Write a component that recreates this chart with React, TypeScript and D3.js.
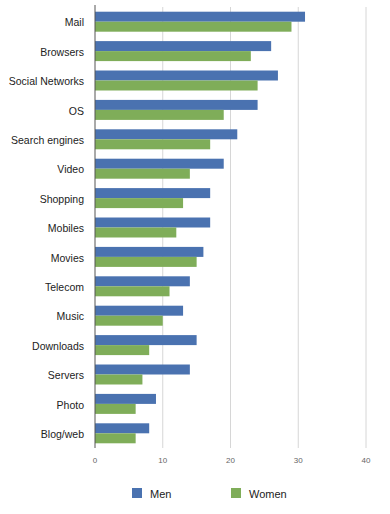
import { useEffect, useRef } from 'react';
import * as d3 from 'd3';

const CATEGORIES = ["Mail", "Browsers", "Social Networks", "OS", "Search engines", "Video", "Shopping", "Mobiles", "Movies", "Telecom", "Music", "Downloads", "Servers", "Photo", "Blog/web"];
const MEN = [31, 26, 27, 24, 21, 19, 17, 17, 16, 14, 13, 15, 14, 9, 8];
const WOMEN = [29, 23, 24, 19, 17, 14, 13, 12, 15, 11, 10, 8, 7, 6, 6];
const SERIES = ["Men", "Women"];
const TICKS = [0, 10, 20, 30, 40];

const COLOR_MEN = "#4a72b0";
const COLOR_WOMEN = "#7fad59";
const COLOR_TEXT = "#222";
const COLOR_GRID = "#d6d6d6";

export default function App() {
  const ref = useRef<SVGSVGElement>(null);

  useEffect(() => {
    if (!ref.current) return;
    const svg = d3.select(ref.current);
    svg.selectAll("*").remove();

    const left = 95, right = 366, top = 7, bottom = 448;

    const x = d3.scaleLinear().domain([0, 40]).range([left, right]);
    const y = d3.scaleBand().domain(CATEGORIES).range([top, bottom]).paddingInner(0.32).paddingOuter(0.16);
    const sub = d3.scaleBand().domain(SERIES).range([0, y.bandwidth()]);

    // gridlines
    svg.append("g")
      .selectAll("line")
      .data(TICKS.slice(1))
      .join("line")
      .attr("x1", d => x(d)).attr("x2", d => x(d))
      .attr("y1", top).attr("y2", bottom)
      .attr("stroke", COLOR_GRID)
      .attr("stroke-width", 1);

    // bars
    const rows = CATEGORIES.map((c, i) => ({ c, vals: [MEN[i], WOMEN[i]] }));
    const g = svg.append("g")
      .selectAll("g")
      .data(rows)
      .join("g")
      .attr("transform", d => `translate(0,${y(d.c)})`);

    g.selectAll("rect")
      .data(d => d.vals.map((v, j) => ({ s: SERIES[j], v })))
      .join("rect")
      .attr("x", x(0))
      .attr("y", d => sub(d.s)!)
      .attr("width", d => x(d.v) - x(0))
      .attr("height", sub.bandwidth())
      .attr("fill", d => d.s === "Men" ? COLOR_MEN : COLOR_WOMEN);

    // axis line
    svg.append("line")
      .attr("x1", x(0)).attr("x2", x(0))
      .attr("y1", top - 2).attr("y2", bottom)
      .attr("stroke", "#555")
      .attr("stroke-width", 1);

    // category labels
    svg.append("g")
      .selectAll("text")
      .data(CATEGORIES)
      .join("text")
      .attr("x", left - 11)
      .attr("y", d => y(d)! + y.bandwidth() / 2 + 1)
      .attr("dy", "0.35em")
      .attr("text-anchor", "end")
      .attr("fill", COLOR_TEXT)
      .attr("font-size", 10.5)
      .text(d => d);

    // tick labels
    svg.append("g")
      .selectAll("text")
      .data(TICKS)
      .join("text")
      .attr("x", d => x(d))
      .attr("y", bottom + 15)
      .attr("text-anchor", "middle")
      .attr("fill", "#666")
      .attr("font-size", 8)
      .text(d => d);

    // legend
    const legend = svg.append("g")
      .selectAll("g")
      .data(SERIES)
      .join("g")
      .attr("transform", (d, i) => `translate(${132 + i * 99}, 488)`);
    legend.append("rect")
      .attr("width", 10).attr("height", 10)
      .attr("fill", d => d === "Men" ? COLOR_MEN : COLOR_WOMEN);
    legend.append("text")
      .attr("x", 18).attr("y", 9.5)
      .attr("fill", COLOR_TEXT)
      .attr("font-size", 11)
      .text(d => d);
  }, []);

  return (
    <svg
      ref={ref}
      width={390}
      height={514}
      style={{ position: 'absolute', left: 0, top: 0, background: '#fff', fontFamily: 'Liberation Sans, Arial, sans-serif' }}
    />
  );
}
